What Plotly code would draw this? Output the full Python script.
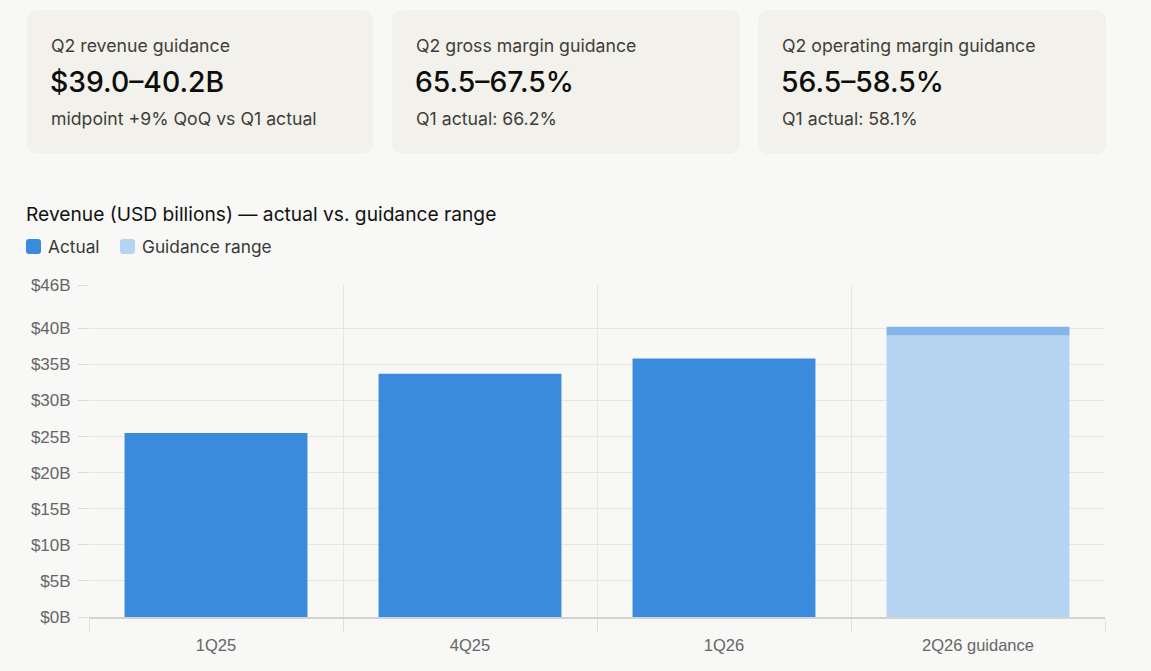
import plotly.graph_objects as go

# ---- data ----
actual_quarters = ["1Q25", "4Q25", "1Q26"]
actual_revenue = [25.5, 33.7, 35.8]
guidance_quarter = ["2Q26 guidance"]
guidance_low = [39.0]
guidance_high = [40.2]
y_ticks = [0, 5, 10, 15, 20, 25, 30, 35, 40, 46]
y_tick_labels = ["$0B", "$5B", "$10B", "$15B", "$20B", "$25B", "$30B", "$35B", "$40B", "$46B"]

card_labels = ["Q2 revenue guidance", "Q2 gross margin guidance", "Q2 operating margin guidance"]
card_values = ["$39.0–40.2B", "65.5–67.5%", "56.5–58.5%"]
card_notes = ["midpoint +9% QoQ vs Q1 actual", "Q1 actual: 66.2%", "Q1 actual: 58.1%"]

chart_title = "Revenue (USD billions) — actual vs. guidance range"
legend_items = ["Actual", "Guidance range"]

# ---- styling ----
W, H = 1151, 671
L, R, T, B = 89, 46, 285, 54
PW, PH = W - L - R, H - T - B
BG = "#f8f8f6"
CARD = "#f2f1eb"
C_ACT = "#3a8bdd"
C_GUIDE = "#b4d4f2"
C_BAND = "#84b5e8"
UI_FONT = "Inter, Lato, sans-serif"
AX_FONT = "Liberation Sans, Arial, sans-serif"


def px(x):
    return (x - L) / PW


def py(y):
    return (H - B - y) / PH


def rounded_rect(x0, y0, x1, y1, r):
    pts = [
        f"M {px(x0 + r)},{py(y0)}",
        f"L {px(x1 - r)},{py(y0)}",
        f"Q {px(x1)},{py(y0)} {px(x1)},{py(y0 + r)}",
        f"L {px(x1)},{py(y1 - r)}",
        f"Q {px(x1)},{py(y1)} {px(x1 - r)},{py(y1)}",
        f"L {px(x0 + r)},{py(y1)}",
        f"Q {px(x0)},{py(y1)} {px(x0)},{py(y1 - r)}",
        f"L {px(x0)},{py(y0 + r)}",
        f"Q {px(x0)},{py(y0)} {px(x0 + r)},{py(y0)}",
        "Z",
    ]
    return " ".join(pts)


fig = go.Figure()
fig.add_trace(go.Bar(x=actual_quarters, y=actual_revenue, name=legend_items[0],
                     marker=dict(color=C_ACT, line=dict(width=0)), width=0.72))
fig.add_trace(go.Bar(x=guidance_quarter, y=guidance_low, name=legend_items[1],
                     marker=dict(color=C_GUIDE, line=dict(width=0)), width=0.72))
fig.add_trace(go.Bar(x=guidance_quarter,
                     y=[h - l for h, l in zip(guidance_high, guidance_low)],
                     base=guidance_low, name="Guidance band",
                     marker=dict(color=C_BAND, line=dict(width=0)), width=0.72))

shapes = []
annotations = []

# cards
card_x = [(27, 373), (392, 740), (758, 1106)]
for i, (x0, x1) in enumerate(card_x):
    shapes.append(dict(type="path", path=rounded_rect(x0, 10, x1, 154, 12),
                       xref="paper", yref="paper", fillcolor=CARD,
                       line=dict(width=0), layer="below"))
    tx = x0 + 21.5
    annotations.append(dict(text=card_labels[i], x=px(tx), y=py(46), xref="paper", yref="paper",
                            xanchor="left", yanchor="middle", showarrow=False,
                            font=dict(family=UI_FONT, size=17.7, color="#3f3e3a")))
    annotations.append(dict(text=card_values[i], x=px(tx - 1), y=py(82), xref="paper", yref="paper",
                            xanchor="left", yanchor="middle", showarrow=False,
                            font=dict(family=UI_FONT, size=28.3, color="#0d0d0c", weight=500)))
    annotations.append(dict(text=card_notes[i], x=px(tx), y=py(118), xref="paper", yref="paper",
                            xanchor="left", yanchor="middle", showarrow=False,
                            font=dict(family=UI_FONT, size=17.7, color="#3f3e3a")))

# chart title
annotations.append(dict(text=chart_title, x=px(24), y=py(214), xref="paper", yref="paper",
                        xanchor="left", yanchor="middle", showarrow=False,
                        font=dict(family=UI_FONT, size=19.2, color="#121210")))

# legend
for (sx, tx, col, lab) in [(26, 45.5, C_ACT, legend_items[0]), (120, 139.5, C_GUIDE, legend_items[1])]:
    shapes.append(dict(type="path", path=rounded_rect(sx, 239, sx + 15, 254, 3),
                       xref="paper", yref="paper", fillcolor=col, line=dict(width=0)))
    annotations.append(dict(text=lab, x=px(tx), y=py(246.5), xref="paper", yref="paper",
                            xanchor="left", yanchor="middle", showarrow=False,
                            font=dict(family=UI_FONT, size=17.3, color="#3a3936")))

fig.update_layout(
    width=W, height=H,
    margin=dict(l=L, r=R, t=T, b=B, pad=0),
    paper_bgcolor=BG, plot_bgcolor=BG,
    barmode="overlay", bargap=0.28,
    showlegend=False,
    shapes=shapes, annotations=annotations,
    xaxis=dict(type="category", categoryorder="array",
               categoryarray=actual_quarters + guidance_quarter,
               tickson="boundaries", ticks="outside", ticklen=13, tickcolor="#e0e0de",
               ticklabelstandoff=12,
               showgrid=True, gridcolor="#e6e6e4", gridwidth=1,
               showline=True, linecolor="#d2d2d0", linewidth=1.5,
               tickfont=dict(family=AX_FONT, size=16.5, color="#666666"),
               fixedrange=True),
    yaxis=dict(range=[0, 46], tickvals=y_ticks, ticktext=y_tick_labels,
               ticks="outside", ticklen=10, tickcolor="#dcdcda",
               ticklabelstandoff=4,
               showgrid=True, gridcolor="#e6e6e4", gridwidth=1,
               zeroline=False, showline=False,
               tickfont=dict(family=AX_FONT, size=17, color="#666666"),
               fixedrange=True),
)

fig.write_html("out.html", config={"displayModeBar": False},
               post_script="document.body.style.margin='0';")
